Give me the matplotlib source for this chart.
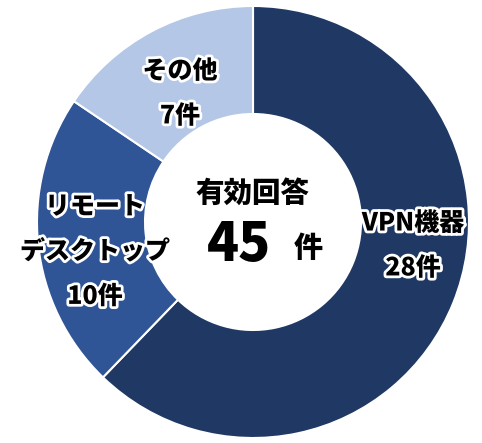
import matplotlib.pyplot as plt
import matplotlib.patheffects as pe

plt.rcParams['font.family'] = ['Noto Sans CJK JP', 'DejaVu Sans']

labels = ['VPN機器', 'リモート\nデスクトップ', 'その他']
counts = [28, 10, 7]
colors = ['#1f3864', '#2f5597', '#b4c7e7']
total = sum(counts)

W, H = 482, 443
fig = plt.figure(figsize=(W / 100, H / 100), dpi=100)
ax = fig.add_axes([0, 0, 1, 1])

# pixel-like coordinates, y up
cx, cy, r = 253, H - 222, 216
ax.pie(counts, colors=colors, startangle=90, counterclock=False,
       center=(cx, cy), radius=r,
       wedgeprops=dict(width=r * 0.5, edgecolor='white', linewidth=1.5))
ax.set_xlim(0, W)
ax.set_ylim(0, H)
ax.set_aspect('equal')
ax.axis('off')

halo = [pe.withStroke(linewidth=4, foreground='white')]

# label positions (image pixels, from top)
label_pos = [(413, 245), (95, 251), (180, 93)]
for lab, n, (x, y) in zip(labels, counts, label_pos):
    ax.text(x, H - y, f'{lab}\n{n}件', ha='center', va='center',
            fontsize=18, fontweight='heavy', linespacing=1.9,
            path_effects=halo)

ax.text(252, H - 193, '有効回答', ha='center', va='center',
        fontsize=20.5, fontweight='heavy')
ax.text(239, H - 245, f'{total}', ha='center', va='center',
        fontsize=38, fontweight='heavy')
ax.text(308, H - 248, '件', ha='center', va='center',
        fontsize=21, fontweight='heavy')

fig.savefig('out.png', dpi=100)
